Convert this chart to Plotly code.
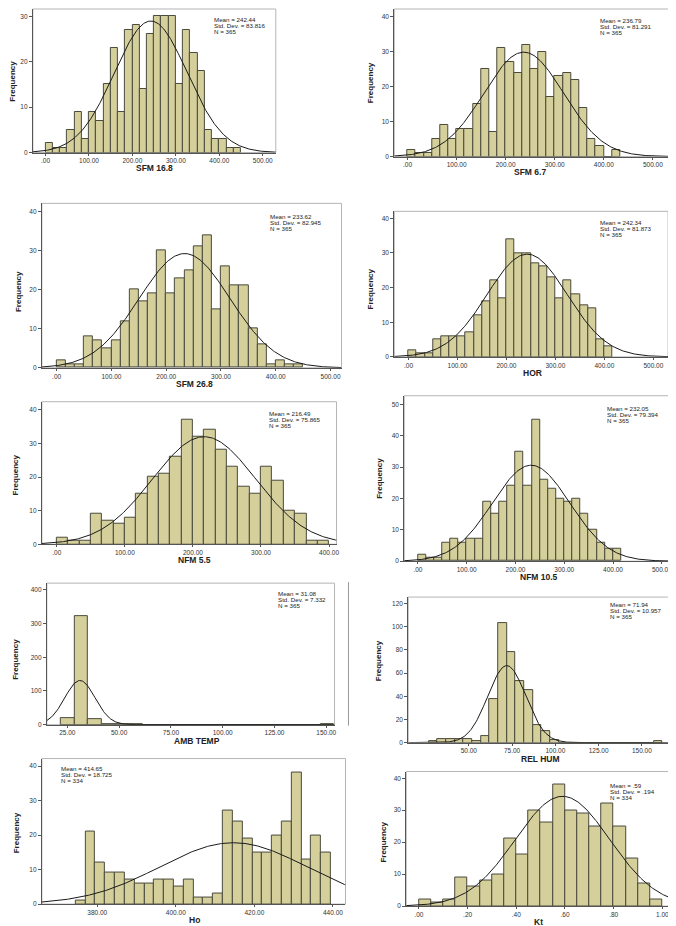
import math
import plotly.graph_objects as go

W, H = 676, 926

# ---------------- data (histogram counts) ----------------
sfm168_counts = [2, 1, 1, 5, 9, 3, 9, 7, 15, 23, 9, 27, 28, 14, 26, 30, 30, 30, 15, 27, 22, 18, 5, 3, 3, 1, 1]
sfm67_counts = [2, 1, 1, 5, 9, 5, 8, 8, 15, 25, 7, 31, 27, 24, 32, 25, 30, 17, 23, 24, 22, 14, 5, 3, 0, 2]
sfm268_counts = [2, 1, 1, 8, 7, 5, 7, 12, 20, 17, 19, 30, 19, 23, 25, 31, 34, 15, 26, 21, 21, 10, 6, 1, 2, 1, 1]
hor_counts = [2, 1, 1, 5, 6, 6, 6, 7, 12, 16, 22, 17, 34, 30, 30, 27, 26, 23, 17, 22, 18, 15, 14, 5, 3]
nfm55_counts = [2, 1, 1, 9, 7, 6, 8, 15, 20, 21, 26, 37, 32, 34, 28, 23, 17, 15, 23, 19, 10, 9, 1, 1]
nfm105_counts = [2, 1, 1, 6, 7, 6, 7, 7, 19, 15, 19, 24, 35, 24, 45, 26, 23, 20, 19, 20, 15, 10, 6, 4, 4]
ambtemp_counts = [18, 322, 17, 2, 2, 3, 0, 0, 0, 0, 0, 0, 0, 0, 0, 0, 0, 0, 0, 1]
relhum_counts = [1, 3, 3, 3, 3, 1, 6, 38, 103, 78, 53, 45, 15, 10, 2, 0, 0, 0, 0, 0, 0, 0, 0, 0, 0, 0, 1]
ho_counts = [1, 21, 12, 9, 9, 7, 6, 6, 7, 7, 5, 7, 2, 2, 3, 27, 24, 19, 15, 15, 20, 24, 38, 13, 20, 15]
kt_counts = [2, 1, 2, 9, 6, 8, 10, 21, 16, 30, 26, 38, 30, 29, 25, 32, 25, 15, 7, 2]

# bin starts / widths of each histogram
bin_starts = [0, 0, 0, 0, 0, 0, 21.8, 27, 374.5, 0]
bin_widths = [16.667, 16.667, 16.667, 16.667, 16.667, 16.667, 6.6, 5, 2.5, 0.05]

# statistics printed on each panel
names = ["SFM 16.8", "SFM 6.7", "SFM 26.8", "HOR", "NFM 5.5", "NFM 10.5", "AMB TEMP", "REL HUM", "Ho", "Kt"]
means = [242.44, 236.79, 233.62, 242.34, 216.49, 232.05, 31.08, 71.94, 414.65, 0.59]
sds = [83.816, 81.291, 82.945, 81.873, 75.865, 79.394, 7.332, 10.957, 18.725, 0.194]
ns = [365, 365, 365, 365, 365, 365, 365, 365, 334, 334]
mean_txt = ["242.44", "236.79", "233.62", "242.34", "216.49", "232.05", "31.08", "71.94", "414.65", ".59"]
sd_txt = ["83.816", "81.291", "82.945", "81.873", "75.865", "79.394", "7.332", "10.957", "18.725", ".194"]

# tick labels
ticks_500 = [0, 100, 200, 300, 400, 500]
ticks_500_txt = [".00", "100.00", "200.00", "300.00", "400.00", "500.00"]
ticks_400 = [0, 100, 200, 300, 400]
ticks_400_txt = [".00", "100.00", "200.00", "300.00", "400.00"]
ticks_amb = [25, 50, 75, 100, 125, 150]
ticks_amb_txt = ["25.00", "50.00", "75.00", "100.00", "125.00", "150.00"]
ticks_rh = [50, 75, 100, 125, 150]
ticks_rh_txt = ["50.00", "75.00", "100.00", "125.00", "150.00"]
ticks_ho = [380, 400, 420, 440]
ticks_ho_txt = ["380.00", "400.00", "420.00", "440.00"]
ticks_kt = [0, 0.2, 0.4, 0.6, 0.8, 1.0]
ticks_kt_txt = [".00", ".20", ".40", ".60", ".80", "1.00"]

all_counts = [sfm168_counts, sfm67_counts, sfm268_counts, hor_counts, nfm55_counts,
              nfm105_counts, ambtemp_counts, relhum_counts, ho_counts, kt_counts]

# ---------------- layout geometry (pixels) ----------------
# box: left, right, top, bottom
boxes = [(25, 269, 1, 145), (388, 664, 1, 149), (34, 335, 196, 361), (388, 663, 204, 350),
         (34, 330, 395, 538), (398, 669, 389, 555), (39, 328, 577, 719), (402, 668, 591, 737),
         (34, 339, 753, 899), (400, 670, 766, 901)]
xranges = [(-29, 530), (-27, 533), (-27, 520), (-29, 530), (-22, 411), (-28, 525),
           (15.1, 154), (15, 168), (365.9, 443.2), (-0.052, 1.052)]
yranges = [(0, 31.6), (0, 42.2), (0, 42.1), (0, 42), (0, 42.4), (0, 52.7),
           (0, 420), (0, 125.6), (0, 42.2), (0, 42.1)]
xticks = [(ticks_500, ticks_500_txt)] * 4 + [(ticks_400, ticks_400_txt), (ticks_500, ticks_500_txt),
                                              (ticks_amb, ticks_amb_txt), (ticks_rh, ticks_rh_txt),
                                              (ticks_ho, ticks_ho_txt), (ticks_kt, ticks_kt_txt)]
ytick_step = [10, 10, 10, 10, 10, 10, 100, 20, 10, 10]
title_x = [147, 524, 187, 527, 187, 533, 190, 535, 187, 533]
title_gap = 16
freq_pos = [(5, 73), (364, 75), (10, 284), (364, 282), (8, 468), (373, 472),
            (8, 653), (373, 655), (8, 827), (377, 837)]
stats_pos = [(205, 12), (593, 13), (261, 209), (593, 215), (260, 407), (600, 402),
             (269, 587), (603, 598), (51, 763), (603, 780)]

BAR = "#D4CF9B"
BAR_LINE = "#4a4a3c"
AXIS = "#555555"
FONT = "Liberation Sans, Arial, sans-serif"


def px(x):
    return x / W


def py(y):
    return 1 - y / H


fig = go.Figure()
annotations = []
shapes = []
layout = {}

for i in range(10):
    k = "" if i == 0 else str(i + 1)
    xa, ya = "x" + k, "y" + k
    counts = all_counts[i]
    s0, bw = bin_starts[i], bin_widths[i]
    centers = [s0 + bw * (j + 0.5) for j in range(len(counts))]
    fig.add_trace(go.Bar(x=centers, y=counts, width=[bw] * len(counts),
                         marker=dict(color=BAR, line=dict(color=BAR_LINE, width=1)),
                         xaxis=xa, yaxis=ya, showlegend=False, hoverinfo="x+y"))
    # fitted normal curve
    x0, x1 = xranges[i]
    npts = 300
    cx = [x0 + (x1 - x0) * t / (npts - 1) for t in range(npts)]
    m, s, n = means[i], sds[i], ns[i]
    cy = [n * bw * math.exp(-0.5 * ((v - m) / s) ** 2) / (s * math.sqrt(2 * math.pi)) for v in cx]
    fig.add_trace(go.Scatter(x=cx, y=cy, mode="lines", line=dict(color="#1a1a1a", width=1),
                             xaxis=xa, yaxis=ya, showlegend=False, hoverinfo="skip"))

    l, r, t, b = boxes[i]
    tv, tt = xticks[i]
    layout["xaxis" + k] = dict(domain=[px(l), px(r)], range=list(xranges[i]), anchor=ya,
                               tickvals=tv, ticktext=tt, ticks="outside", ticklen=2,
                               tickcolor=AXIS, showline=True, linecolor=AXIS, linewidth=1,
                               showgrid=False, zeroline=False,
                               tickfont=dict(size=6.5, color="#333333", family=FONT))
    ymax = yranges[i][1]
    step = ytick_step[i]
    yv = [step * j for j in range(int(ymax // step) + 1)]
    layout["yaxis" + k] = dict(domain=[py(b), py(t)], range=list(yranges[i]), anchor=xa,
                               tickvals=yv, ticks="outside", ticklen=3, tickcolor=AXIS,
                               showline=True, linecolor=AXIS, linewidth=1,
                               showgrid=False, zeroline=False,
                               tickfont=dict(size=6.5, color="#333333", family=FONT))
    # light frame (top/right)
    shapes.append(dict(type="rect", xref="paper", yref="paper", x0=px(l), x1=px(r),
                       y0=py(b), y1=py(t), line=dict(color="#b5b5b5", width=1), layer="below"))
    # titles
    annotations.append(dict(x=px(title_x[i]), y=py(b + title_gap), xref="paper", yref="paper",
                            text="<b>%s</b>" % names[i],
                            showarrow=False, font=dict(size=8.5, color="#222222", family=FONT),
                            xanchor="center", yanchor="middle"))
    fx, fy = freq_pos[i]
    annotations.append(dict(x=px(fx), y=py(fy), xref="paper", yref="paper", text="<b>Frequency</b>",
                            showarrow=False, textangle=-90,
                            font=dict(size=8, color="#222222",
                                      family="Liberation Sans Narrow, Liberation Sans, Arial"),
                            xanchor="center", yanchor="middle"))
    sx, sy = stats_pos[i]
    lines = ["Mean = " + mean_txt[i], "Std. Dev. = " + sd_txt[i], "N = " + str(ns[i])]
    for j, line in enumerate(lines):
        annotations.append(dict(x=px(sx), y=py(sy + 6 * j), xref="paper", yref="paper", text=line,
                                showarrow=False, font=dict(size=6.2, color="#222222", family=FONT),
                                xanchor="left", yanchor="middle"))

# thin separator line seen between the lower panels
shapes.append(dict(type="line", xref="paper", yref="paper", x0=px(342), x1=px(342),
                   y0=py(720), y1=py(576), line=dict(color="#999999", width=1)))

layout.update(dict(width=W, height=H, margin=dict(l=0, r=0, t=0, b=0),
                   paper_bgcolor="white", plot_bgcolor="white", bargap=0,
                   annotations=annotations, shapes=shapes, font=dict(family=FONT)))
fig.update_layout(**layout)
fig.write_html("out.html")
